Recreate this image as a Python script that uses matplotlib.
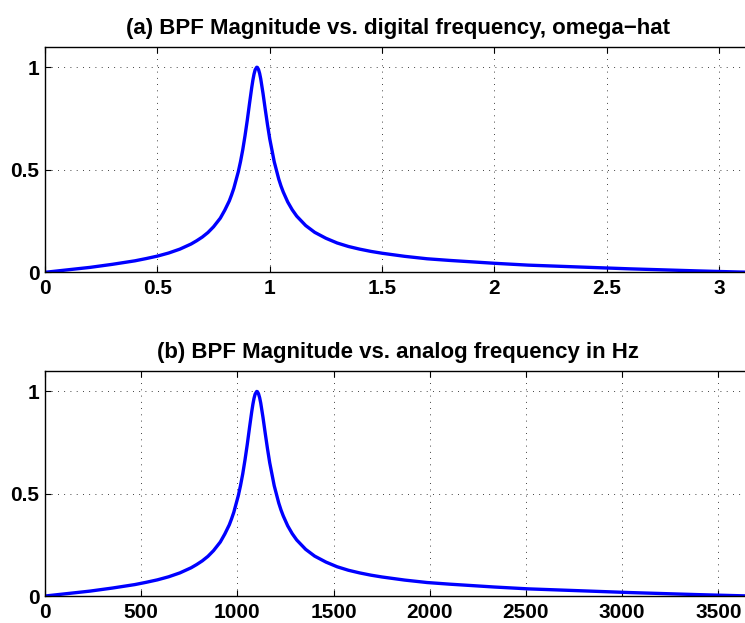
import matplotlib
matplotlib.use("Agg")
import matplotlib.pyplot as plt
import numpy as np

# =========================================================
# DATA
# =========================================================

w_hat = [0.0, 0.05, 0.1, 0.2, 0.3, 0.4, 0.45, 0.5, 0.55, 0.6, 0.65, 0.675,
         0.7, 0.725, 0.75, 0.78, 0.8, 0.82, 0.83, 0.84, 0.86, 0.87, 0.88,
         0.89, 0.9, 0.91, 0.92, 0.925, 0.93, 0.935, 0.942, 0.945, 0.95,
         0.955, 0.96, 0.97, 0.98, 0.99, 1.0, 1.02, 1.04, 1.05, 1.06, 1.08,
         1.1, 1.12, 1.16, 1.2, 1.25, 1.3, 1.35, 1.4, 1.45, 1.5, 1.6, 1.7,
         1.8, 2.0, 2.15, 2.3, 2.45, 2.6, 2.75, 2.9, 3.0, np.pi]

mag = [0.0, 0.006, 0.012, 0.024, 0.039, 0.056, 0.067, 0.079, 0.094, 0.113,
       0.138, 0.154, 0.172, 0.194, 0.222, 0.264, 0.303, 0.348, 0.377, 0.409,
       0.490, 0.540, 0.598, 0.666, 0.741, 0.823, 0.902, 0.937, 0.966, 0.987,
       1.0, 0.999, 0.989, 0.970, 0.943, 0.873, 0.795, 0.720, 0.651, 0.539,
       0.455, 0.421, 0.392, 0.343, 0.305, 0.274, 0.228, 0.195, 0.166, 0.143,
       0.126, 0.113, 0.102, 0.093, 0.078, 0.066, 0.058, 0.044, 0.035, 0.029,
       0.023, 0.017, 0.012, 0.007, 0.004, 0.0]

fs = 7340  # sampling rate, Hz
f_hz = np.array(w_hat) * fs / (2 * np.pi)

x_ticks_a = [0, 0.5, 1, 1.5, 2, 2.5, 3]
x_ticks_b = [0, 500, 1000, 1500, 2000, 2500, 3000, 3500]
y_ticks = [0, 0.5, 1]

# =========================================================
# STYLE
# =========================================================

plt.rcParams["font.family"] = ["Liberation Sans", "DejaVu Sans"]
plt.rcParams["font.weight"] = "bold"
plt.rcParams["font.size"] = 16


def style_axis(ax, xticks, xlim, title):
    ax.set_xlim(*xlim)
    ax.set_ylim(0, 1.1)
    ax.set_xticks(xticks)
    ax.set_yticks(y_ticks)
    ax.set_yticklabels(["0", "0.5", "1"])
    ax.set_xticklabels([("%g" % t) for t in xticks])
    ax.grid(True, color="k", linewidth=0.6, linestyle=(0, (1, 6.5)))
    ax.tick_params(direction="in", length=4, width=0.8, top=True,
                   labelsize=15)
    ax.tick_params(axis="x", pad=5)
    ax.tick_params(axis="y", pad=4)
    for s in ax.spines.values():
        s.set_linewidth(1.0)
    ax.set_title(title, fontsize=16, fontweight="bold", pad=9)


fig = plt.figure(figsize=(7.45, 6.23), dpi=100)

# right edge goes past the figure, like the cropped original
ax1 = fig.add_axes([0.0604, 0.5629, 0.9477, 0.3621])
ax1.plot(w_hat, mag, color="b", linewidth=2.4)
style_axis(ax1, x_ticks_a, (0, np.pi),
           "(a) BPF Magnitude vs. digital frequency, omega\u2212hat")

ax2 = fig.add_axes([0.0604, 0.0433, 0.9477, 0.3612])
ax2.plot(f_hz, mag, color="b", linewidth=2.4)
style_axis(ax2, x_ticks_b, (0, fs / 2),
           "(b) BPF Magnitude vs. analog frequency in Hz")

fig.savefig("out.png", dpi=100)
